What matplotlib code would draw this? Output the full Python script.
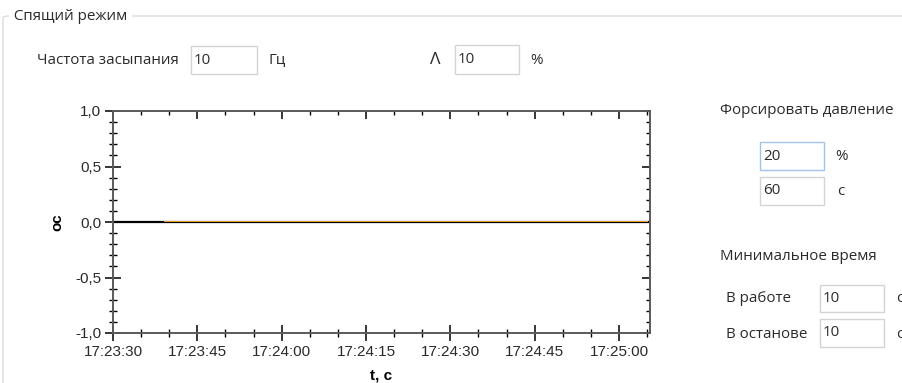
import matplotlib
matplotlib.use("Agg")
import matplotlib.pyplot as plt
import matplotlib.dates as mdates
import matplotlib.transforms as mtransforms
from matplotlib.patches import Rectangle, FancyBboxPatch
from matplotlib.ticker import MultipleLocator, FuncFormatter
import datetime as dt

# ---- data ----
series_times = ["17:23:39", "17:24:00", "17:24:30", "17:25:00", "17:25:05"]
series_values = [0.0, 0.0, 0.0, 0.0, 0.0]
x_start = "17:23:30"
x_end = "17:25:05.5"
y_min, y_max = -1.0, 1.0

# form values
sleep_freq = "10"
delta_pct = "10"
force_pct = "20"
force_time = "60"
min_work = "10"
min_stop = "10"

W, H = 903, 383
fig = plt.figure(figsize=(W / 100, H / 100), dpi=100)
fig.patch.set_facecolor("white")

def fx(x):
    return x / W

def fy(y):
    return 1 - y / H

UI_FONT = ["Open Sans", "DejaVu Sans"]
UI_COLOR = "#2a2a2a"
UI_SIZE = 10.9

def ui_text(x, y, s, **kw):
    kw.setdefault("fontsize", UI_SIZE)
    kw.setdefault("color", UI_COLOR)
    return fig.text(fx(x), fy(y), s, family=UI_FONT, ha="left", va="center", **kw)

def ui_box(x0, y0, x1, y1, value, edge="#d4d4d4"):
    r = Rectangle((fx(x0), fy(y1)), fx(x1) - fx(x0), fy(y0) - fy(y1),
                  transform=fig.transFigure, facecolor="white", edgecolor=edge,
                  linewidth=1.0, zorder=2)
    fig.add_artist(r)
    ui_text(x0 + 3, (y0 + y1) / 2, value, zorder=3)

# group box frame
frame = FancyBboxPatch((fx(3), fy(420)), fx(960) - fx(3), fy(16) - fy(420),
                       boxstyle="round,pad=0,rounding_size=0.006",
                       transform=fig.transFigure, facecolor="none",
                       edgecolor="#dcdcdc", linewidth=1.0, zorder=1)
fig.add_artist(frame)
ui_text(10, 16, " Спящий режим ", zorder=3,
        bbox=dict(facecolor="white", edgecolor="none", pad=0.5))

ui_text(37, 60, "Частота засыпания")
ui_box(191, 46, 257, 74, sleep_freq)
ui_text(268, 60, "Гц")
ui_text(430, 60, "Λ", fontsize=12.5)
ui_box(455, 45, 519, 74, delta_pct)
ui_text(530, 60, "%")

ui_text(720, 111, "Форсировать давление")
ui_box(760, 142, 824, 170, force_pct, edge="#9fc4e8")
ui_text(835, 157, "%")
ui_box(760, 177, 824, 205, force_time)
ui_text(837, 192, "с")

ui_text(720, 256, "Минимальное время")
ui_text(726, 299, "В работе")
ui_box(820, 285, 884, 312, min_work)
ui_text(896, 299, "с")
ui_text(726, 334, "В останове")
ui_box(820, 319, 884, 347, min_stop)
ui_text(896, 334, "с")

# ---- chart ----
base = dt.date(2024, 1, 1)

def to_dt(s):
    if "." in s:
        t = dt.datetime.strptime(s, "%H:%M:%S.%f").time()
    else:
        t = dt.datetime.strptime(s, "%H:%M:%S").time()
    return dt.datetime.combine(base, t)

ax = fig.add_axes([fx(113), fy(333), fx(650) - fx(113), fy(111) - fy(333)])
ax.set_facecolor("white")
ax.axhline(0, color="black", linewidth=1.6, zorder=2)
shift_up = mtransforms.offset_copy(ax.transData, fig=fig, x=0, y=0.6, units="points")
ax.plot([to_dt(t) for t in series_times], series_values,
        color="#f0a020", linewidth=0.7, zorder=3, transform=shift_up)
ax.set_xlim(to_dt(x_start), to_dt(x_end))
ax.set_ylim(y_min, y_max)

ax.xaxis.set_major_locator(mdates.SecondLocator(bysecond=[0, 15, 30, 45]))
ax.xaxis.set_minor_locator(mdates.SecondLocator(bysecond=range(0, 60, 5)))
ax.xaxis.set_major_formatter(mdates.DateFormatter("%H:%M:%S"))
ax.yaxis.set_major_locator(MultipleLocator(0.5))
ax.yaxis.set_minor_locator(MultipleLocator(0.1))
ax.yaxis.set_major_formatter(FuncFormatter(lambda v, p: f"{v:.1f}".replace(".", ",").replace("−", "-")))

for side in ["left", "bottom", "top", "right"]:
    ax.spines[side].set_color("#5a5a5a")
    ax.spines[side].set_linewidth(1.4)

ax.tick_params(axis="both", which="major", direction="inout", length=11, width=1.1,
               color="black", labelcolor="#2a2a2a", pad=3, labelsize=11)
ax.tick_params(axis="both", which="minor", direction="inout", length=6, width=1.0,
               color="black")
ax.tick_params(top=False, right=False, which="both")
for lbl in ax.get_xticklabels() + ax.get_yticklabels():
    lbl.set_family(["Liberation Sans", "DejaVu Sans"])

sec_x = ax.secondary_xaxis("top")
sec_x.xaxis.set_major_locator(mdates.SecondLocator(bysecond=[0, 15, 30, 45]))
sec_x.xaxis.set_minor_locator(mdates.SecondLocator(bysecond=range(0, 60, 5)))
sec_x.tick_params(which="major", direction="in", length=6, width=1.1, labeltop=False)
sec_x.tick_params(which="minor", direction="in", length=3, width=1.0)
sec_x.spines["top"].set_visible(False)

sec_y = ax.secondary_yaxis("right")
sec_y.yaxis.set_major_locator(MultipleLocator(0.5))
sec_y.yaxis.set_minor_locator(MultipleLocator(0.1))
sec_y.tick_params(which="major", direction="in", length=6, width=1.1, labelright=False)
sec_y.tick_params(which="minor", direction="in", length=3, width=1.0)
sec_y.spines["right"].set_visible(False)

ax.set_xlabel("t, c", family=["Liberation Sans", "DejaVu Sans"], fontsize=11,
              fontweight="bold", color="black", labelpad=7)
ax.set_ylabel("ос", family=["Liberation Sans", "DejaVu Sans"], fontsize=11,
              fontweight="bold", color="black", labelpad=8)

fig.savefig("out.png", dpi=100, facecolor="white")
